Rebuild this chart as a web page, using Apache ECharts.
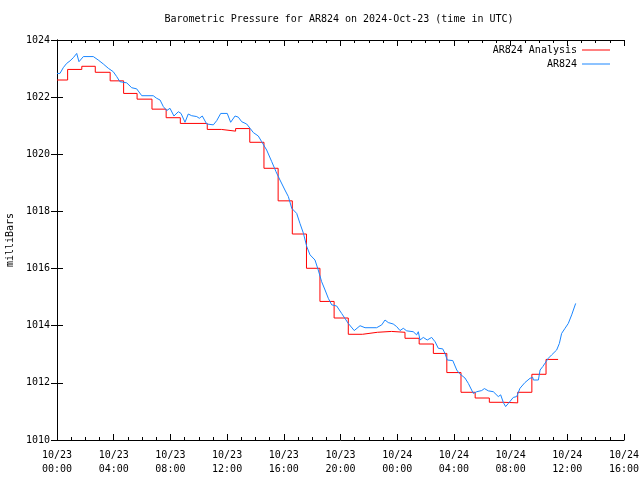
<!DOCTYPE html>
<html>
<head>
<meta charset="utf-8">
<script src="https://cdn.jsdelivr.net/npm/echarts@6/dist/echarts.min.js"></script>
<style>
html,body{margin:0;padding:0;background:#fff;}
#c{width:640px;height:480px;}
</style>
</head>
<body>
<div id="c"></div>
<script>
// hours since 2024-10-23 00:00 UTC
var xTickLabels = ['10/23\n00:00','10/23\n04:00','10/23\n08:00','10/23\n12:00','10/23\n16:00','10/23\n20:00','10/24\n00:00','10/24\n04:00','10/24\n08:00','10/24\n12:00','10/24\n16:00'];
var titleText = 'Barometric Pressure for AR824 on 2024-Oct-23 (time in UTC)';
var yAxisTitle = 'milliBars';
var seriesNames = ['AR824 Analysis', 'AR824'];

// Analysis (stepped) series: hour at which each value begins
var redHours  = [0, 0.75, 1.75, 2.7, 3.75, 4.7, 5.65, 6.7, 7.7, 8.7, 10.6, 11.6, 12.6, 13.6, 14.6, 15.6, 16.6, 17.6, 18.55, 19.55, 20.55, 21.55, 22.6, 23.6, 24.55, 25.55, 26.55, 27.5, 28.5, 29.5, 30.5, 31.5, 32.5, 33.5, 34.5, 35.35];
var redValues = [1022.60, 1022.97, 1023.08, 1022.87, 1022.57, 1022.13, 1021.93, 1021.58, 1021.28, 1021.08, 1020.87, 1020.81, 1020.90, 1020.42, 1019.51, 1018.37, 1017.21, 1016.01, 1014.85, 1014.27, 1013.70, 1013.77, 1013.80, 1013.77, 1013.56, 1013.36, 1013.03, 1012.36, 1011.67, 1011.47, 1011.32, 1011.30, 1011.67, 1012.30, 1012.82, 1012.82];

// Observed series
var blueHours = [0, 0.21, 0.44, 0.68, 0.92, 1.15, 1.39, 1.55, 1.86, 2.56, 2.91, 3.27, 3.62, 3.97, 4.21, 4.44, 4.92, 5.27, 5.62, 5.98, 6.79, 7.03, 7.27, 7.50, 7.74, 7.97, 8.25, 8.56, 8.75, 9.03, 9.26, 9.50, 9.86, 10.04, 10.25, 10.56, 11.03, 11.27, 11.55, 12.01, 12.25, 12.56, 12.79, 13.03, 13.38, 13.62, 13.85, 14.20, 14.44, 14.79, 15.15, 15.45, 15.73, 16.08, 16.32, 16.56, 16.91, 17.14, 17.38, 17.62, 17.85, 18.20, 18.43, 18.67, 18.91, 19.14, 19.38, 19.73, 20.08, 20.55, 20.97, 21.38, 21.73, 22.55, 22.91, 23.14, 23.37, 23.72, 23.96, 24.20, 24.43, 24.67, 25.13, 25.37, 25.49, 25.61, 25.84, 26.12, 26.43, 26.67, 26.90, 27.21, 27.37, 27.53, 27.92, 28.20, 28.38, 28.78, 29.02, 29.37, 29.61, 29.96, 30.15, 30.43, 30.78, 31.13, 31.30, 31.49, 31.65, 31.84, 32.19, 32.43, 32.66, 33.01, 33.37, 33.56, 33.61, 33.96, 34.08, 34.27, 34.50, 34.66, 34.90, 35.25, 35.44, 35.60, 35.84, 36.07, 36.31, 36.59];
var blueValues = [1022.83, 1022.83, 1023.03, 1023.18, 1023.27, 1023.38, 1023.53, 1023.24, 1023.42, 1023.42, 1023.30, 1023.16, 1023.01, 1022.89, 1022.72, 1022.54, 1022.50, 1022.33, 1022.29, 1022.05, 1022.05, 1021.96, 1021.90, 1021.67, 1021.53, 1021.61, 1021.34, 1021.49, 1021.43, 1021.12, 1021.41, 1021.35, 1021.32, 1021.26, 1021.34, 1021.06, 1021.03, 1021.18, 1021.43, 1021.43, 1021.12, 1021.34, 1021.30, 1021.14, 1021.06, 1020.91, 1020.76, 1020.64, 1020.44, 1020.15, 1019.74, 1019.39, 1019.10, 1018.75, 1018.52, 1018.11, 1017.93, 1017.58, 1017.24, 1016.77, 1016.48, 1016.30, 1015.95, 1015.54, 1015.25, 1014.96, 1014.73, 1014.69, 1014.43, 1014.08, 1013.83, 1014.00, 1013.93, 1013.93, 1014.03, 1014.20, 1014.11, 1014.06, 1013.97, 1013.83, 1013.91, 1013.82, 1013.79, 1013.68, 1013.79, 1013.50, 1013.59, 1013.50, 1013.59, 1013.44, 1013.21, 1013.19, 1013.03, 1012.80, 1012.78, 1012.45, 1012.33, 1012.17, 1011.98, 1011.63, 1011.69, 1011.73, 1011.80, 1011.72, 1011.69, 1011.52, 1011.58, 1011.31, 1011.17, 1011.28, 1011.49, 1011.52, 1011.81, 1012.01, 1012.16, 1012.19, 1012.10, 1012.10, 1012.45, 1012.57, 1012.74, 1012.86, 1012.98, 1013.15, 1013.38, 1013.73, 1013.91, 1014.08, 1014.38, 1014.78];

var xMin = 0, xMax = 40, xStep = 4;
var yMin = 1010, yMax = 1024, yStep = 2;

function pairs(xs, ys) { return xs.map(function (x, i) { return [x, ys[i]]; }); }

var FONT = 'DejaVu Sans Mono';
var txt = { color: '#000', fontFamily: FONT, fontSize: 10 };

function xAxisDef(pos, showLabels) {
  return {
    type: 'value', position: pos, min: xMin, max: xMax, interval: xStep,
    axisLine: { show: true, lineStyle: { color: '#000', width: 1 } },
    axisTick: { show: true, inside: true, length: 6, lineStyle: { color: '#000' } },
    minorTick: { show: true, splitNumber: 4, length: 3, lineStyle: { color: '#000' } },
    splitLine: { show: false }, minorSplitLine: { show: false },
    axisLabel: {
      show: showLabels, margin: 8, lineHeight: 14, color: '#000', fontFamily: FONT, fontSize: 10,
      hideOverlap: false, showMinLabel: true, showMaxLabel: true,
      formatter: function (v) { var i = Math.round((v - xMin) / xStep); return xTickLabels[i] || ''; }
    }
  };
}
function yAxisDef(pos, showLabels) {
  var a = {
    type: 'value', position: pos, min: yMin, max: yMax, interval: yStep,
    axisLine: { show: true, lineStyle: { color: '#000', width: 1 } },
    axisTick: { show: true, inside: true, length: 6, lineStyle: { color: '#000' } },
    splitLine: { show: false },
    axisLabel: { show: showLabels, margin: 7, color: '#000', fontFamily: FONT, fontSize: 10,
      formatter: function (v) { return String(v); } }
  };
  if (showLabels) {
    a.name = yAxisTitle; a.nameLocation = 'middle'; a.nameGap = 38;
    a.nameTextStyle = txt;
  }
  return a;
}

var chart = echarts.init(document.getElementById('c'), null, { renderer: 'canvas' });
chart.setOption({
  animation: false,
  backgroundColor: '#fff',
  title: {
    text: titleText, left: 339, top: 14, textAlign: 'center', padding: 0,
    textStyle: { color: '#000', fontFamily: FONT, fontSize: 10, fontWeight: 'normal' }
  },
  legend: [
    { data: [seriesNames[0]], right: 30, top: 45, padding: 0, align: 'right', icon: 'rect', itemWidth: 28, itemHeight: 1, itemGap: 0, textStyle: txt, selectedMode: false },
    { data: [seriesNames[1]], right: 30, top: 59, padding: 0, align: 'right', icon: 'rect', itemWidth: 28, itemHeight: 1, itemGap: 0, textStyle: txt, selectedMode: false }
  ],
  grid: { left: 57, right: 16, top: 40, bottom: 40, containLabel: false, outerBoundsMode: 'none' },
  xAxis: [xAxisDef('bottom', true), xAxisDef('top', false)],
  yAxis: [yAxisDef('left', true), yAxisDef('right', false)],
  series: [
    {
      name: seriesNames[0], type: 'line', step: 'end', xAxisIndex: 0, yAxisIndex: 0,
      data: pairs(redHours, redValues), symbol: 'none',
      lineStyle: { color: '#ff0000', width: 1 }, itemStyle: { color: '#ff0000' }
    },
    {
      name: seriesNames[1], type: 'line', xAxisIndex: 0, yAxisIndex: 0,
      data: pairs(blueHours, blueValues), symbol: 'none',
      lineStyle: { color: '#1a86ff', width: 1 }, itemStyle: { color: '#1a86ff' }
    }
  ]
});
</script>
</body>
</html>
